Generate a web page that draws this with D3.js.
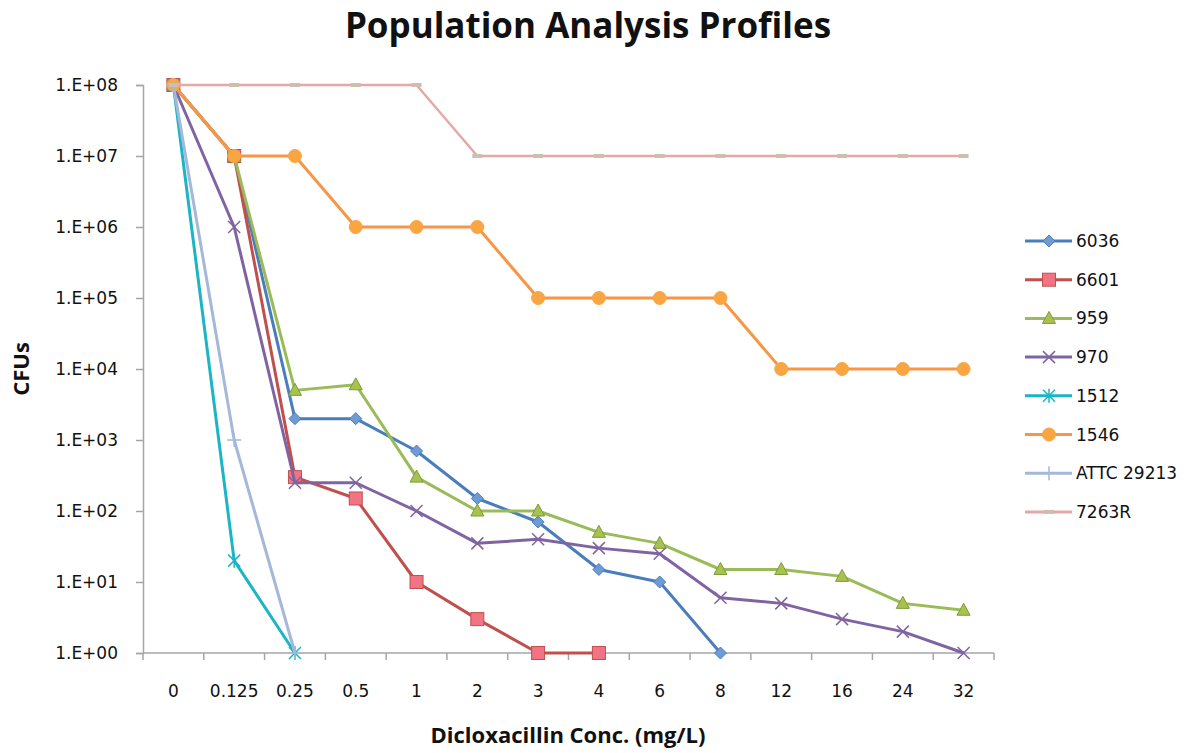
<!DOCTYPE html>
<html>
<head>
<meta charset="utf-8">
<script src="https://cdn.jsdelivr.net/npm/d3@7"></script>
<style>
  body { margin: 0; background: #fff; }
  text { font-family: "DejaVu Sans", sans-serif; fill: #111; }
</style>
</head>
<body>
<div id="chart"></div>
<script>
// concentrations (mg/L) on the category axis
const concentrations = ["0", "0.125", "0.25", "0.5", "1", "2", "3", "4", "6", "8", "12", "16", "24", "32"];

// CFU counts per strain, one entry per concentration (missing = no growth plotted)
const s6036  = [1e8, 1e7, 2000, 2000, 700, 150, 70, 15, 10, 1];
const s6601  = [1e8, 1e7, 300, 150, 10, 3, 1, 1];
const s959   = [1e8, 1e7, 5000, 6000, 300, 100, 100, 50, 35, 15, 15, 12, 5, 4];
const s970   = [1e8, 1e6, 250, 250, 100, 35, 40, 30, 25, 6, 5, 3, 2, 1];
const s1512  = [1e8, 20, 1];
const s1546  = [1e8, 1e7, 1e7, 1e6, 1e6, 1e6, 1e5, 1e5, 1e5, 1e5, 1e4, 1e4, 1e4, 1e4];
const sATTC  = [1e8, 1000, 1];
const s7263R = [1e8, 1e8, 1e8, 1e8, 1e8, 1e7, 1e7, 1e7, 1e7, 1e7, 1e7, 1e7, 1e7, 1e7];

const yTicks = [1, 10, 100, 1e3, 1e4, 1e5, 1e6, 1e7, 1e8];

const series = [
    {name: "6036",       values: s6036,  color: "#4a7ebb", fill: "#6e9bd4", marker: "diamond"},
    {name: "6601",       values: s6601,  color: "#c0504d", fill: "#f07483", marker: "square"},
    {name: "959",        values: s959,   color: "#9bbb59", fill: "#a8c24e", marker: "triangle"},
    {name: "970",        values: s970,   color: "#8064a2", fill: "#8064a2", marker: "x"},
    {name: "1512",       values: s1512,  color: "#1cb5c5", fill: "#1cb5c5", marker: "star"},
    {name: "1546",       values: s1546,  color: "#f79646", fill: "#f9a541", marker: "circle"},
    {name: "ATTC 29213", values: sATTC,  color: "#a5b8da", fill: "#a5b8da", marker: "plus"},
    {name: "7263R",      values: s7263R, color: "#e6a8a6", fill: "#cdbfae", marker: "dash"}
];

let totalWidth = 1196,
    totalHeight = 753;

let plotLeft = 143,
    plotRight = 994,
    plotTop = 85,
    plotBottom = 653;

const svg = d3.select("#chart").append("svg")
    .attr("width", totalWidth)
    .attr("height", totalHeight);

const xScale = d3.scaleBand()
    .domain(concentrations)
    .range([plotLeft, plotRight]);

const yScale = d3.scaleLog()
    .domain([1, 1e8])
    .range([plotBottom, plotTop]);

const xPos = function(i) { return xScale(concentrations[i]) + xScale.bandwidth() / 2; };

// title
svg.append("text")
    .attr("x", 588)
    .attr("y", 38)
    .attr("text-anchor", "middle")
    .style("font-family", "'Open Sans', sans-serif")
    .style("font-weight", "bold")
    .style("font-size", "35px")
    .text("Population Analysis Profiles");

// y axis
const yAxis = d3.axisLeft(yScale)
    .tickValues(yTicks)
    .tickFormat(function(d) { return "1.E+" + d3.format("02d")(Math.round(Math.log10(d))); })
    .tickSize(7)
    .tickPadding(18);

const gy = svg.append("g")
    .attr("transform", "translate(" + plotLeft + ",0)")
    .call(yAxis);
gy.select(".domain").attr("stroke", "#a6a6a6").attr("stroke-width", 1.5);
gy.selectAll(".tick line").attr("stroke", "#a6a6a6").attr("stroke-width", 1.5);
gy.selectAll(".tick text").style("font-size", "17px").attr("fill", "#111");

// x axis with ticks between categories
const gx = svg.append("g")
    .attr("transform", "translate(0," + plotBottom + ")");
gx.append("line")
    .attr("x1", plotLeft).attr("x2", plotRight)
    .attr("stroke", "#a6a6a6").attr("stroke-width", 1.5);
gx.selectAll(".tk")
    .data(concentrations.concat(["end"]))
    .enter().append("line")
    .attr("x1", function(d, i) { return plotLeft + i * xScale.step(); })
    .attr("x2", function(d, i) { return plotLeft + i * xScale.step(); })
    .attr("y1", 0).attr("y2", 7)
    .attr("stroke", "#a6a6a6").attr("stroke-width", 1.5);
gx.selectAll(".lbl")
    .data(concentrations)
    .enter().append("text")
    .attr("x", function(d) { return xScale(d) + xScale.bandwidth() / 2; })
    .attr("y", 44)
    .attr("text-anchor", "middle")
    .style("font-size", "17px")
    .text(function(d) { return d; });

// axis titles
svg.append("text")
    .attr("x", 568)
    .attr("y", 743)
    .attr("text-anchor", "middle")
    .style("font-family", "'Open Sans', sans-serif")
    .style("font-weight", "bold")
    .style("font-size", "22px")
    .text("Dicloxacillin Conc. (mg/L)");

svg.append("text")
    .attr("transform", "translate(29,369) rotate(-90)")
    .attr("text-anchor", "middle")
    .style("font-family", "'Open Sans', sans-serif")
    .style("font-weight", "bold")
    .style("font-size", "22px")
    .text("CFUs");

function drawMarker(g, type, color, fill, x, y) {
    if (type === "diamond") {
        g.append("path").attr("d", "M0,-6L6,0L0,6L-6,0Z")
            .attr("transform", "translate(" + x + "," + y + ")")
            .attr("fill", fill).attr("stroke", color).attr("stroke-width", 1);
    } else if (type === "square") {
        g.append("rect").attr("x", x - 6.5).attr("y", y - 6.5).attr("width", 13).attr("height", 13)
            .attr("fill", fill).attr("stroke", color).attr("stroke-width", 1);
    } else if (type === "triangle") {
        g.append("path").attr("d", "M0,-7L6.5,5L-6.5,5Z")
            .attr("transform", "translate(" + x + "," + y + ")")
            .attr("fill", fill).attr("stroke", "#7f9a3a").attr("stroke-width", 1);
    } else if (type === "circle") {
        g.append("circle").attr("cx", x).attr("cy", y).attr("r", 6.5)
            .attr("fill", fill).attr("stroke", fill);
    } else if (type === "x") {
        g.append("path").attr("d", "M-6,-6L6,6M-6,6L6,-6")
            .attr("transform", "translate(" + x + "," + y + ")")
            .attr("fill", "none").attr("stroke", color).attr("stroke-width", 1.5);
    } else if (type === "star") {
        g.append("path").attr("d", "M-6,-6L6,6M-6,6L6,-6M0,-7L0,7")
            .attr("transform", "translate(" + x + "," + y + ")")
            .attr("fill", "none").attr("stroke", color).attr("stroke-width", 1.5);
    } else if (type === "plus") {
        g.append("path").attr("d", "M-7,0L7,0M0,-7L0,7")
            .attr("transform", "translate(" + x + "," + y + ")")
            .attr("fill", "none").attr("stroke", color).attr("stroke-width", 1.5);
    } else if (type === "dash") {
        g.append("line").attr("x1", x - 5).attr("x2", x + 5).attr("y1", y).attr("y2", y)
            .attr("stroke", fill).attr("stroke-width", 4);
    }
}

const line = d3.line()
    .x(function(d, i) { return xPos(i); })
    .y(function(d) { return yScale(d); });

const plot = svg.append("g");

series.forEach(function(s) {
    const g = plot.append("g");
    g.append("path")
        .datum(s.values)
        .attr("fill", "none")
        .attr("stroke", s.color)
        .attr("stroke-width", s.name === "7263R" ? 2.5 : 3)
        .attr("stroke-linejoin", "round")
        .attr("d", line);
    s.values.forEach(function(v, i) {
        drawMarker(g, s.marker, s.color, s.fill, xPos(i), yScale(v));
    });
});

// legend
const legend = svg.append("g");
series.forEach(function(s, i) {
    const y = 241 + i * 38.7;
    const g = legend.append("g");
    g.append("line")
        .attr("x1", 1025).attr("x2", 1072)
        .attr("y1", y).attr("y2", y)
        .attr("stroke", s.color)
        .attr("stroke-width", 3);
    drawMarker(g, s.marker, s.color, s.fill, 1049, y);
    g.append("text")
        .attr("x", 1076)
        .attr("y", y + 6)
        .style("font-size", "17px")
        .text(s.name);
});
</script>
</body>
</html>
